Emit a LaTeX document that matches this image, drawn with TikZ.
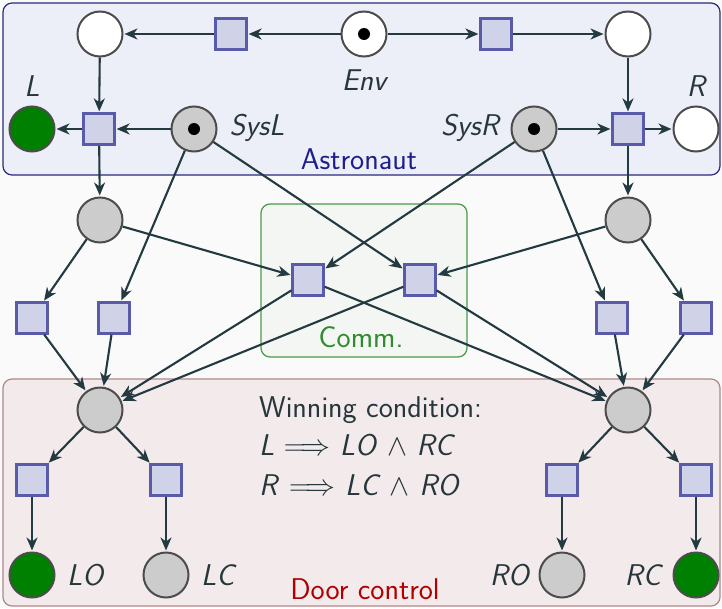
\RequirePackage{fix-cm}
\documentclass[tikz,border=0pt]{standalone}
\usetikzlibrary{arrows.meta}
\renewcommand{\familydefault}{\sfdefault}
\definecolor{bgc}{HTML}{FAFAFA}
\definecolor{astrofill}{HTML}{ECEEF8}
\definecolor{astroline}{HTML}{2A2A7E}
\definecolor{astrotext}{HTML}{1E1E8C}
\definecolor{doorfill}{HTML}{F3EAEC}
\definecolor{doorline}{HTML}{B08888}
\definecolor{doortext}{HTML}{B00000}
\definecolor{commfill}{HTML}{F3F6F2}
\definecolor{commline}{HTML}{4A9A4A}
\definecolor{commtext}{HTML}{2E8B2E}
\definecolor{placegreen}{HTML}{008000}
\definecolor{placegray}{HTML}{CCCCCC}
\definecolor{transfill}{HTML}{D0D2E8}
\definecolor{transline}{HTML}{5A5AAA}
\definecolor{arrowc}{HTML}{223A40}
\definecolor{textc}{HTML}{26363A}
\tikzset{
  place/.style={circle, draw=black!70, line width=2pt, minimum size=45pt, inner sep=0pt, fill=white},
  gplace/.style={place, fill=placegray},
  grplace/.style={place, fill=placegreen},
  trans/.style={rectangle, draw=transline, line width=2.2pt, minimum size=31pt, inner sep=0pt, fill=transfill},
  token/.style={circle, fill=black, minimum size=12pt, inner sep=0pt},
  arc/.style={draw=arrowc, line width=2.1pt, -{Stealth[length=13pt,width=11pt,inset=4pt]}, shorten >=1pt},
  lbl/.style={text=textc, font=\fontsize{30}{36}\selectfont\itshape, inner sep=0pt},
  txt/.style={text=textc, font=\fontsize{30}{36}\selectfont, inner sep=0pt},
}
\begin{document}
\begin{tikzpicture}[x=1pt,y=-1pt]
\useasboundingbox (0,0) rectangle (722,608);
\fill[bgc] (0,0) rectangle (722,608);
% boxes
\draw[astroline, fill=astrofill, line width=1.2pt, rounded corners=9pt] (3,3) rectangle (720,175);
\draw[doorline, fill=doorfill, line width=1.2pt, rounded corners=9pt] (3,379) rectangle (720,606);
\draw[commline, fill=commfill, line width=1.2pt, rounded corners=9pt] (261,204) rectangle (467,357);
\node[txt, text=astrotext] (astro) at (359,159) {Astronaut};
\node[txt, text=doortext] (door) at (365,589) {Door control};
\node[txt, text=commtext] (comm) at (361,337) {Comm.};
% top row
\node[place] (tl) at (100,34) {};
\node[trans] (t1) at (231,34) {};
\node[place] (env) at (364,34) {};
\node[token] (envtok) at (364,34) {};
\node[trans] (t2) at (496,34) {};
\node[place] (tr) at (628,34) {};
\node[lbl] (envl) at (364,80) {Env};
% second row
\node[grplace] (L) at (32,129) {};
\node[lbl] (Ll) at (32,86) {L};
\node[trans] (t3) at (99,129) {};
\node[gplace] (sysl) at (194,129) {};
\node[token] (sysltok) at (194,129) {};
\node[lbl] (sysll) at (257,128) {SysL};
\node[lbl] (sysrl) at (470,128) {SysR};
\node[gplace] (sysr) at (534,129) {};
\node[token] (sysrtok) at (534,129) {};
\node[trans] (t4) at (628,129) {};
\node[place] (R) at (696,129) {};
\node[lbl] (Rl) at (696,86) {R};
% third row
\node[gplace] (gl) at (100,220) {};
\node[gplace] (gr) at (628,220) {};
\node[trans] (cl) at (308,280) {};
\node[trans] (cr) at (420,280) {};
% fourth row
\node[trans] (t5) at (32,318) {};
\node[trans] (t6) at (114,318) {};
\node[trans] (t7) at (612,318) {};
\node[trans] (t8) at (696,318) {};
% fifth row
\node[gplace] (dl) at (100,410) {};
\node[gplace] (dr) at (628,410) {};
% sixth row
\node[trans] (t9) at (32,480) {};
\node[trans] (t10) at (166,480) {};
\node[trans] (t11) at (562,480) {};
\node[trans] (t12) at (696,480) {};
% bottom places
\node[grplace] (LO) at (32,575) {};
\node[gplace] (LC) at (166,575) {};
\node[gplace] (RO) at (562,575) {};
\node[grplace] (RC) at (696,575) {};
\node[lbl, anchor=west] (LOl) at (67,575) {LO};
\node[lbl, anchor=west] (LCl) at (201,575) {LC};
\node[lbl, anchor=east] (ROl) at (529,575) {RO};
\node[lbl, anchor=east] (RCl) at (661,575) {RC};
% winning condition
\node[txt, anchor=west] (win) at (259,410) {Winning condition:};
\node[txt, anchor=west] (win1) at (259,445) {\textit{L} $\Longrightarrow$ \textit{LO} $\wedge$ \textit{RC}};
\node[txt, anchor=west] (win2) at (259,485) {\textit{R} $\Longrightarrow$ \textit{LC} $\wedge$ \textit{RO}};
% arcs
\draw[arc] (env) -- (t1);
\draw[arc] (t1) -- (tl);
\draw[arc] (env) -- (t2);
\draw[arc] (t2) -- (tr);
\draw[arc] (tl) -- (t3);
\draw[arc] (sysl) -- (t3);
\draw[arc] (t3) -- (L);
\draw[arc] (t3) -- (gl);
\draw[arc] (tr) -- (t4);
\draw[arc] (sysr) -- (t4);
\draw[arc] (t4) -- (R);
\draw[arc] (t4) -- (gr);
\draw[arc] (sysl) -- (t6);
\draw[arc] (sysl) -- (cr);
\draw[arc] (sysr) -- (cl);
\draw[arc] (sysr) -- (t7);
\draw[arc] (gl) -- (t5);
\draw[arc] (gl) -- (cl);
\draw[arc] (gr) -- (t8);
\draw[arc] (gr) -- (cr);
\draw[arc] (t5) -- (dl);
\draw[arc] (t6) -- (dl);
\draw[arc] (cl) -- (dl);
\draw[arc] (cr) -- (dl);
\draw[arc] (cl) -- (dr);
\draw[arc] (cr) -- (dr);
\draw[arc] (t7) -- (dr);
\draw[arc] (t8) -- (dr);
\draw[arc] (dl) -- (t9);
\draw[arc] (dl) -- (t10);
\draw[arc] (t9) -- (LO);
\draw[arc] (t10) -- (LC);
\draw[arc] (dr) -- (t11);
\draw[arc] (dr) -- (t12);
\draw[arc] (t11) -- (RO);
\draw[arc] (t12) -- (RC);
\end{tikzpicture}
\end{document}
